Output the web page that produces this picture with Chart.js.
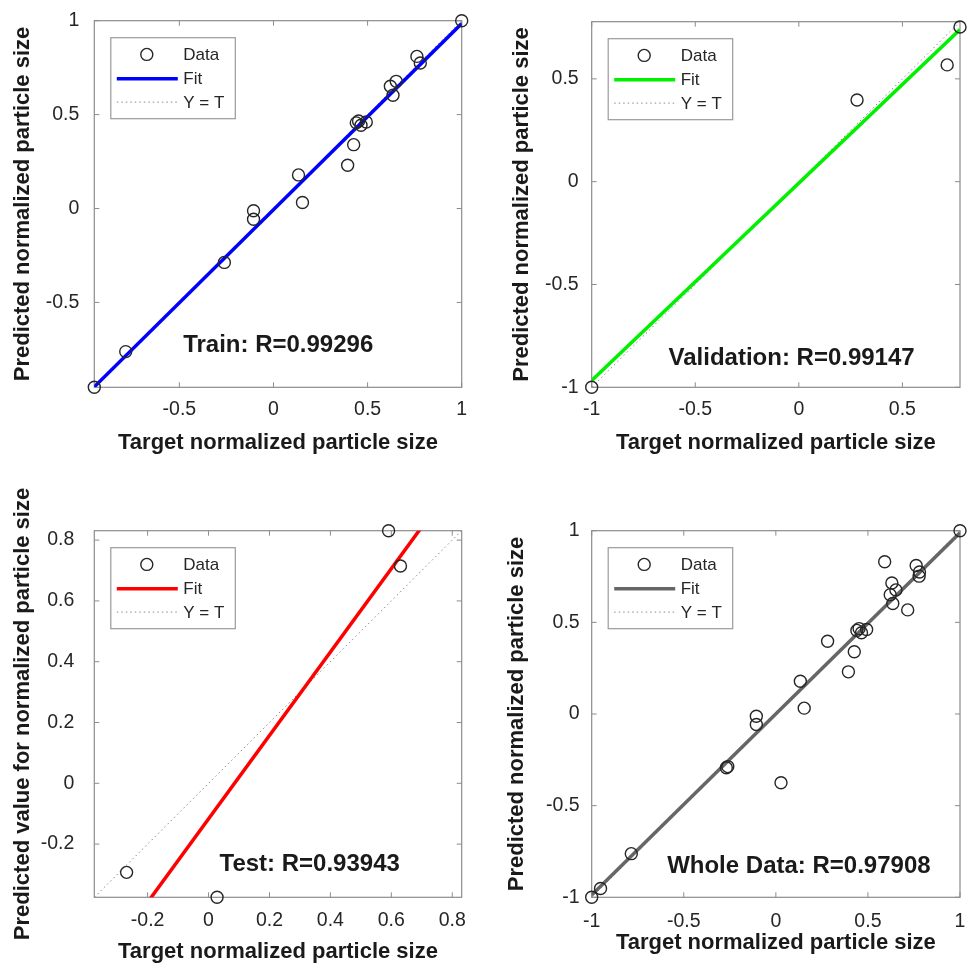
<!DOCTYPE html>
<html>
<head>
<meta charset="utf-8">
<script src="https://cdn.jsdelivr.net/npm/chart.js@4.4.0/dist/chart.umd.min.js"></script>
<style>
html,body{margin:0;padding:0;background:#ffffff;}
#wrap{position:relative;width:968px;height:964px;overflow:hidden;}
canvas{position:absolute;}
</style>
</head>
<body>
<div id="wrap">
<canvas id="c1" width="484" height="470" style="left:0px;top:0px"></canvas>
<canvas id="c2" width="484" height="470" style="left:484px;top:0px"></canvas>
<canvas id="c3" width="484" height="494" style="left:0px;top:470px"></canvas>
<canvas id="c4" width="484" height="494" style="left:484px;top:470px"></canvas>
</div>
<script>
// ---------------- data ----------------
const trainTarget = [-0.952, -0.785, -0.261, -0.106, -0.106, 0.133, 0.154, 0.394, 0.426, 0.440, 0.452, 0.465, 0.493, 0.621, 0.635, 0.652, 0.762, 0.780, 1.000];
const trainOutput = [-0.952, -0.762, -0.287, -0.012, -0.057, 0.179, 0.032, 0.230, 0.340, 0.456, 0.466, 0.443, 0.461, 0.651, 0.603, 0.677, 0.810, 0.775, 1.000];

const valTarget = [-1.000, 0.281, 0.716, 0.778];
const valOutput = [-1.000, 0.397, 0.568, 0.752];

const testTarget = [-0.269, 0.028, 0.591, 0.630];
const testOutput = [-0.293, -0.375, 0.831, 0.715];

const wholeTarget = trainTarget.concat(valTarget, testTarget);
const wholeOutput = trainOutput.concat(valOutput, testOutput);

const panelNames = ['Train', 'Validation', 'Test', 'Whole Data'];
const rValues = ['0.99296', '0.99147', '0.93943', '0.97908'];
const fitSlope = [0.991, 0.960, 1.372, 0.988];
const fitIntercept = [-0.006, -0.007, -0.117, 0.001];

const ticks1 = [-0.5, 0, 0.5, 1];
const ticks2 = [-1, -0.5, 0, 0.5];
const ticks3 = [-0.2, 0, 0.2, 0.4, 0.6, 0.8];
const ticks4 = [-1, -0.5, 0, 0.5, 1];

const xTitle = 'Target normalized particle size';
const yTitles = ['Predicted normalized particle size', 'Predicted normalized particle size',
                 'Predicted value for normalized particle size', 'Predicted normalized particle size'];
const legendLabels = ['Data', 'Fit', 'Y = T'];

// ---------------- styling / layout ----------------
const FONT = "'Liberation Sans', Arial, Helvetica, sans-serif";
const fitColors = ['#0000ff', '#00f000', '#ff0000', '#666666'];
const AX = '#8c8c8c';
const TXT = '#262626';

const panels = [
  {id:'c1', w:484, h:470, area:{l:94.3, t:20.7, r:461.7, b:387.3}, tx:trainTarget, ty:trainOutput, ticks:ticks1,
   yTitlePad:12, xTitlePad:16, yTickPad:15, xTickPad:11, textAt:[0.025, -0.727], customY:false},
  {id:'c2', w:484, h:470, area:{l:107.7, t:21.7, r:476, b:387.3}, tx:valTarget, ty:valOutput, ticks:ticks2,
   yTitlePad:26.7, xTitlePad:15.7, yTickPad:13, xTickPad:11, textAt:[-0.035, -0.858], customY:false},
  {id:'c3', w:484, h:494, area:{l:94.3, t:60.7, r:461.7, b:427.3}, tx:testTarget, ty:testOutput, ticks:ticks3,
   yTitlePad:0, yTitleX:22.7, xTitlePad:1.3, yTickPad:20, xTickPad:11.7, textAt:[0.332, -0.268], customY:true},
  {id:'c4', w:484, h:494, area:{l:107.7, t:60.7, r:476, b:427.3}, tx:wholeTarget, ty:wholeOutput, ticks:ticks4,
   yTitlePad:21.7, xTitlePad:9.7, yTickPad:12, xTickPad:12.7, textAt:[0.125, -0.829], customY:false}
];

const fmt = v => { const s = String(Math.round(v * 1000) / 1000); return s === '-0' ? '0' : s; };

panels.forEach((p, i) => {
  const lo = Math.min(Math.min(...p.tx), Math.min(...p.ty));
  const hi = Math.max(Math.max(...p.tx), Math.max(...p.ty));
  const pts = p.tx.map((x, k) => ({x: x, y: p.ty[k]}));
  const fitPts = [{x: lo, y: fitSlope[i] * lo + fitIntercept[i]}, {x: hi, y: fitSlope[i] * hi + fitIntercept[i]}];
  const idPts = [{x: lo, y: lo}, {x: hi, y: hi}];
  const color = fitColors[i];

  const framePlugin = {
    id: 'frame' + i,
    beforeDatasetsDraw(chart) {
      const ctx = chart.ctx, a = chart.chartArea;
      const xs = chart.scales.x, ys = chart.scales.y;
      ctx.save();
      ctx.strokeStyle = AX; ctx.lineWidth = 1.2;
      ctx.strokeRect(a.left, a.top, a.right - a.left, a.bottom - a.top);
      ctx.lineWidth = 1;
      const tl = 5;
      p.ticks.forEach(v => {
        const px = xs.getPixelForValue(v);
        if (px >= a.left - 0.5 && px <= a.right + 0.5) {
          ctx.beginPath();
          ctx.moveTo(px, a.bottom); ctx.lineTo(px, a.bottom - tl);
          ctx.moveTo(px, a.top); ctx.lineTo(px, a.top + tl);
          ctx.stroke();
        }
        const py = ys.getPixelForValue(v);
        if (py >= a.top - 0.5 && py <= a.bottom + 0.5) {
          ctx.beginPath();
          ctx.moveTo(a.left, py); ctx.lineTo(a.left + tl, py);
          ctx.moveTo(a.right, py); ctx.lineTo(a.right - tl, py);
          ctx.stroke();
        }
      });
      ctx.restore();
    },
    afterDatasetsDraw(chart) {
      const ctx = chart.ctx, a = chart.chartArea;
      const xs = chart.scales.x, ys = chart.scales.y;
      ctx.save();
      // annotation
      ctx.font = 'bold 24px ' + FONT;
      ctx.fillStyle = '#1a1a1a';
      ctx.textAlign = 'center'; ctx.textBaseline = 'middle';
      ctx.fillText(panelNames[i] + ': R=' + rValues[i], xs.getPixelForValue(p.textAt[0]), ys.getPixelForValue(p.textAt[1]));
      // legend
      const lx = a.left + 16.5, ly = a.top + 17, lw = 124.5, lh = 81;
      ctx.fillStyle = '#ffffff';
      ctx.fillRect(lx, ly, lw, lh);
      ctx.strokeStyle = '#9a9a9a'; ctx.lineWidth = 1.2;
      ctx.strokeRect(lx, ly, lw, lh);
      const rows = [ly + 16.7, ly + 41, ly + 64.4];
      ctx.strokeStyle = '#262626'; ctx.lineWidth = 1.4;
      ctx.beginPath(); ctx.arc(lx + 36, rows[0], 6, 0, Math.PI * 2); ctx.stroke();
      ctx.strokeStyle = color; ctx.lineWidth = 3.5;
      ctx.beginPath(); ctx.moveTo(lx + 6, rows[1]); ctx.lineTo(lx + 67, rows[1]); ctx.stroke();
      ctx.strokeStyle = '#8a8a8a'; ctx.lineWidth = 1; ctx.setLineDash([1.5, 3]);
      ctx.beginPath(); ctx.moveTo(lx + 6, rows[2]); ctx.lineTo(lx + 67, rows[2]); ctx.stroke();
      ctx.setLineDash([]);
      ctx.font = '17px ' + FONT; ctx.fillStyle = TXT; ctx.textAlign = 'left'; ctx.textBaseline = 'middle';
      legendLabels.forEach((t, k) => ctx.fillText(t, lx + 72.5, rows[k] + 1));
      // custom long y-title (panel 3)
      if (p.customY) {
        ctx.font = 'bold 22px ' + FONT; ctx.fillStyle = '#1a1a1a';
        ctx.translate(p.yTitleX, (a.top + a.bottom) / 2);
        ctx.rotate(-Math.PI / 2);
        ctx.textAlign = 'center'; ctx.textBaseline = 'middle';
        ctx.fillText(yTitles[i], 0, 0);
      }
      ctx.restore();
    }
  };

  new Chart(document.getElementById(p.id), {
    type: 'scatter',
    data: {
      datasets: [
        {label: legendLabels[0], data: pts, showLine: false, pointStyle: 'circle', pointRadius: 6,
         pointBackgroundColor: 'rgba(0,0,0,0)', pointBorderColor: '#262626', pointBorderWidth: 1.4, clip: false},
        {label: legendLabels[1], data: fitPts, showLine: true, pointRadius: 0, borderColor: color, borderWidth: 3.5, fill: false},
        {label: legendLabels[2], data: idPts, showLine: true, pointRadius: 0, borderColor: '#8a8a8a', borderWidth: 1,
         borderDash: [1.5, 3], fill: false}
      ]
    },
    options: {
      responsive: false, animation: false, devicePixelRatio: 1,
      layout: {padding: {left: 0, top: p.area.t, right: p.w - p.area.r, bottom: 0}},
      plugins: {legend: {display: false}, tooltip: {enabled: false}},
      scales: {
        x: {
          type: 'linear', position: 'bottom', min: lo, max: hi,
          afterFit: s => { s.height = p.h - p.area.b; s.paddingLeft = 0; s.paddingRight = 0; },
          afterBuildTicks: s => { s.ticks = p.ticks.map(v => ({value: v})); },
          grid: {display: false, drawTicks: false},
          border: {display: false},
          ticks: {padding: p.xTickPad, color: TXT, font: {family: FONT, size: 19.5}, maxRotation: 0, autoSkip: false,
                  callback: v => fmt(v)},
          title: {display: true, text: xTitle, color: '#1a1a1a', font: {family: FONT, size: 22, weight: 'bold', lineHeight: 1},
                  padding: {top: 0, bottom: p.xTitlePad}}
        },
        y: {
          type: 'linear', position: 'left', min: lo, max: hi,
          afterFit: s => { s.width = p.area.l; s.paddingTop = 0; s.paddingBottom = 0; },
          afterBuildTicks: s => { s.ticks = p.ticks.map(v => ({value: v})); },
          grid: {display: false, drawTicks: false},
          border: {display: false},
          ticks: {padding: p.yTickPad, color: TXT, font: {family: FONT, size: 19.5}, autoSkip: false,
                  callback: v => fmt(v)},
          title: {display: !p.customY, text: yTitles[i], color: '#1a1a1a', font: {family: FONT, size: 22, weight: 'bold', lineHeight: 1},
                  padding: {top: p.yTitlePad, bottom: 0}}
        }
      }
    },
    plugins: [framePlugin]
  });
});
</script>
</body>
</html>
